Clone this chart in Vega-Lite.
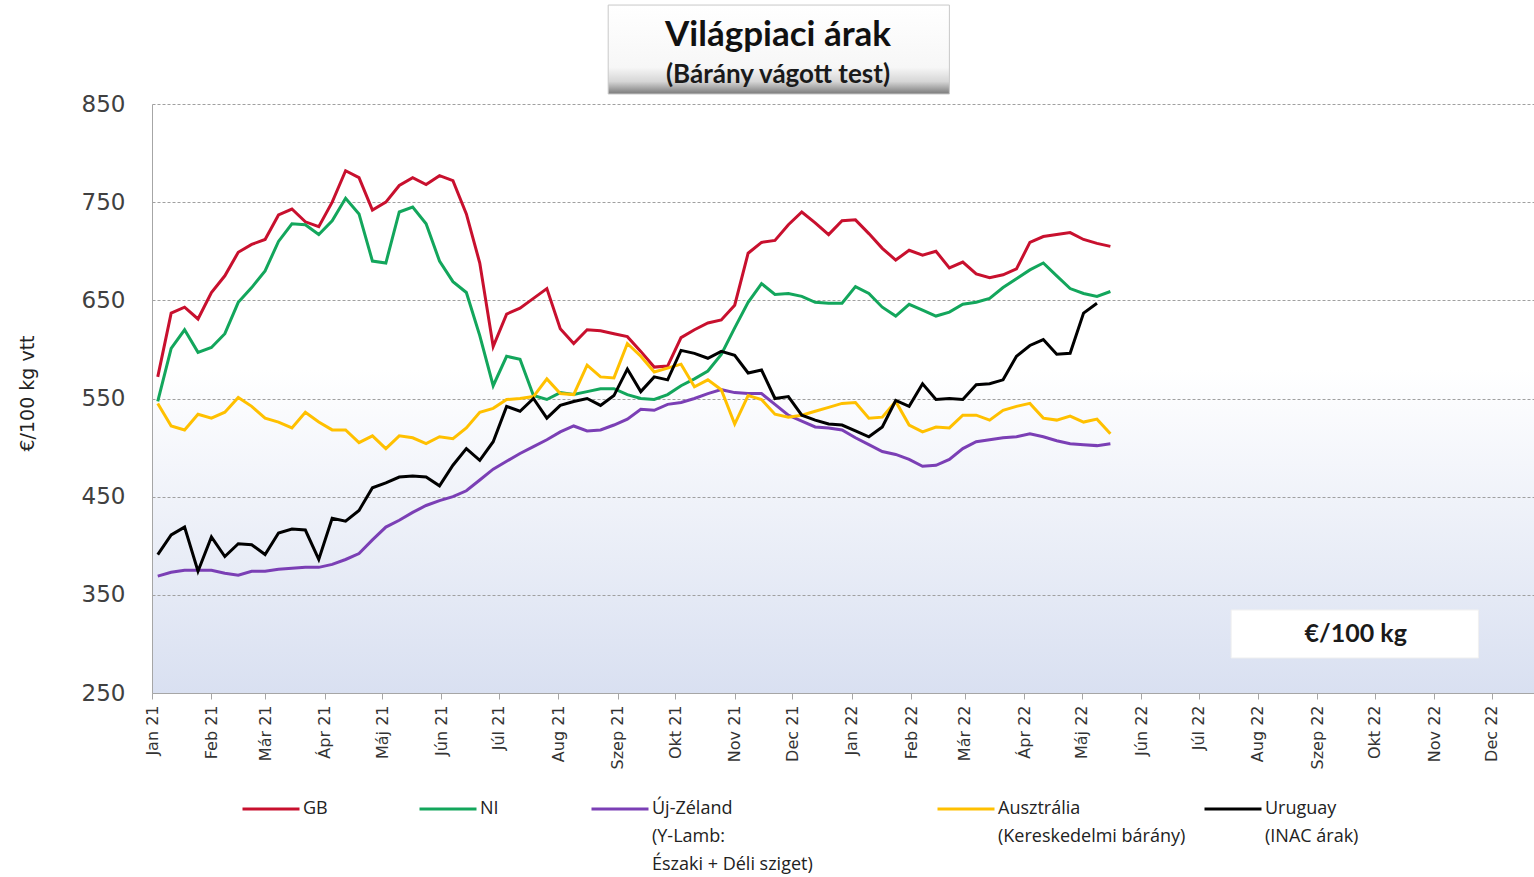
{
  "$schema": "https://vega.github.io/schema/vega-lite/v6.json",
  "width": 1382,
  "height": 589,
  "autosize": {"type": "none"},
  "padding": {"left": 152, "top": 104, "right": 0, "bottom": 184},
  "background": "white",
  "title": {
    "text": "Világpiaci árak",
    "subtitle": "(Bárány vágott test)",
    "frame": "group",
    "anchor": "middle",
    "dx": -65,
    "offset": -83,
    "font": "Lato",
    "fontSize": 35,
    "fontWeight": "bold",
    "color": "#111111",
    "subtitleFont": "Lato",
    "subtitleFontSize": 26,
    "subtitleFontWeight": "bold",
    "subtitleColor": "#1a1a1a",
    "subtitlePadding": 9
  },
  "datasets": {
    "titlebox": [{"d": "2021-08-27", "d2": "2022-02-21", "ar": 950.8, "ar2": 860.2}],
    "unitbox": [{"d": "2022-07-18", "d2": "2022-11-24", "ar": 334.6, "ar2": 285.7}],
    "unittext": [{"d": "2022-09-21", "ar": 310, "t": "€/100 kg"}],
    "prices": [
      {"d": "2021-01-04", "GB": 572, "NI": 547, "Új-Zéland": 369, "Ausztrália": 545, "Uruguay": 391},
      {"d": "2021-01-11", "GB": 637, "NI": 601, "Új-Zéland": 373, "Ausztrália": 522, "Uruguay": 411},
      {"d": "2021-01-18", "GB": 643, "NI": 620, "Új-Zéland": 375, "Ausztrália": 518, "Uruguay": 419},
      {"d": "2021-01-25", "GB": 631, "NI": 597, "Új-Zéland": 375, "Ausztrália": 534, "Uruguay": 374},
      {"d": "2021-02-01", "GB": 658, "NI": 602, "Új-Zéland": 375, "Ausztrália": 530, "Uruguay": 409},
      {"d": "2021-02-08", "GB": 675, "NI": 616, "Új-Zéland": 372, "Ausztrália": 536, "Uruguay": 389},
      {"d": "2021-02-15", "GB": 699, "NI": 648, "Új-Zéland": 370, "Ausztrália": 551, "Uruguay": 402},
      {"d": "2021-02-22", "GB": 707, "NI": 663, "Új-Zéland": 374, "Ausztrália": 542, "Uruguay": 401},
      {"d": "2021-03-01", "GB": 712, "NI": 680, "Új-Zéland": 374, "Ausztrália": 530, "Uruguay": 391},
      {"d": "2021-03-08", "GB": 737, "NI": 710, "Új-Zéland": 376, "Ausztrália": 526, "Uruguay": 413},
      {"d": "2021-03-15", "GB": 743, "NI": 728, "Új-Zéland": 377, "Ausztrália": 520, "Uruguay": 417},
      {"d": "2021-03-22", "GB": 730, "NI": 727, "Új-Zéland": 378, "Ausztrália": 536, "Uruguay": 416},
      {"d": "2021-03-29", "GB": 725, "NI": 717, "Új-Zéland": 378, "Ausztrália": 526, "Uruguay": 386},
      {"d": "2021-04-05", "GB": 750, "NI": 731, "Új-Zéland": 381, "Ausztrália": 518, "Uruguay": 428},
      {"d": "2021-04-12", "GB": 782, "NI": 754, "Új-Zéland": 386, "Ausztrália": 518, "Uruguay": 425},
      {"d": "2021-04-19", "GB": 775, "NI": 738, "Új-Zéland": 392, "Ausztrália": 505, "Uruguay": 436},
      {"d": "2021-04-26", "GB": 742, "NI": 690, "Új-Zéland": 406, "Ausztrália": 512, "Uruguay": 459},
      {"d": "2021-05-03", "GB": 750, "NI": 688, "Új-Zéland": 419, "Ausztrália": 499, "Uruguay": 464},
      {"d": "2021-05-10", "GB": 767, "NI": 740, "Új-Zéland": 426, "Ausztrália": 512, "Uruguay": 470},
      {"d": "2021-05-17", "GB": 775, "NI": 745, "Új-Zéland": 434, "Ausztrália": 510, "Uruguay": 471},
      {"d": "2021-05-24", "GB": 768, "NI": 728, "Új-Zéland": 441, "Ausztrália": 504, "Uruguay": 470},
      {"d": "2021-05-31", "GB": 777, "NI": 690, "Új-Zéland": 446, "Ausztrália": 511, "Uruguay": 461},
      {"d": "2021-06-07", "GB": 772, "NI": 669, "Új-Zéland": 450, "Ausztrália": 509, "Uruguay": 482},
      {"d": "2021-06-14", "GB": 738, "NI": 658, "Új-Zéland": 456, "Ausztrália": 520, "Uruguay": 499},
      {"d": "2021-06-21", "GB": 688, "NI": 614, "Új-Zéland": 467, "Ausztrália": 536, "Uruguay": 487},
      {"d": "2021-06-28", "GB": 603, "NI": 563, "Új-Zéland": 478, "Ausztrália": 540, "Uruguay": 506},
      {"d": "2021-07-05", "GB": 636, "NI": 593, "Új-Zéland": 486, "Ausztrália": 549, "Uruguay": 542},
      {"d": "2021-07-12", "GB": 642, "NI": 590, "Új-Zéland": 494, "Ausztrália": 550, "Uruguay": 537},
      {"d": "2021-07-19", "GB": 652, "NI": 553, "Új-Zéland": 501, "Ausztrália": 552, "Uruguay": 550},
      {"d": "2021-07-26", "GB": 662, "NI": 549, "Új-Zéland": 508, "Ausztrália": 570, "Uruguay": 530},
      {"d": "2021-08-02", "GB": 621, "NI": 556, "Új-Zéland": 516, "Ausztrália": 555, "Uruguay": 543},
      {"d": "2021-08-09", "GB": 606, "NI": 554, "Új-Zéland": 522, "Ausztrália": 554, "Uruguay": 547},
      {"d": "2021-08-16", "GB": 620, "NI": 557, "Új-Zéland": 517, "Ausztrália": 584, "Uruguay": 550},
      {"d": "2021-08-23", "GB": 619, "NI": 560, "Új-Zéland": 518, "Ausztrália": 572, "Uruguay": 543},
      {"d": "2021-08-30", "GB": 616, "NI": 560, "Új-Zéland": 523, "Ausztrália": 571, "Uruguay": 553},
      {"d": "2021-09-06", "GB": 613, "NI": 554, "Új-Zéland": 529, "Ausztrália": 606, "Uruguay": 580},
      {"d": "2021-09-13", "GB": 598, "NI": 550, "Új-Zéland": 539, "Ausztrália": 593, "Uruguay": 557},
      {"d": "2021-09-20", "GB": 582, "NI": 549, "Új-Zéland": 538, "Ausztrália": 577, "Uruguay": 572},
      {"d": "2021-09-27", "GB": 583, "NI": 554, "Új-Zéland": 544, "Ausztrália": 581, "Uruguay": 569},
      {"d": "2021-10-04", "GB": 612, "NI": 563, "Új-Zéland": 546, "Ausztrália": 585, "Uruguay": 599},
      {"d": "2021-10-11", "GB": 620, "NI": 570, "Új-Zéland": 550, "Ausztrália": 562, "Uruguay": 596},
      {"d": "2021-10-18", "GB": 627, "NI": 578, "Új-Zéland": 555, "Ausztrália": 569, "Uruguay": 591},
      {"d": "2021-10-25", "GB": 630, "NI": 595, "Új-Zéland": 559, "Ausztrália": 559, "Uruguay": 598},
      {"d": "2021-11-01", "GB": 645, "NI": 622, "Új-Zéland": 556, "Ausztrália": 524, "Uruguay": 594},
      {"d": "2021-11-08", "GB": 698, "NI": 648, "Új-Zéland": 555, "Ausztrália": 553, "Uruguay": 576},
      {"d": "2021-11-15", "GB": 709, "NI": 667, "Új-Zéland": 555, "Ausztrália": 549, "Uruguay": 579},
      {"d": "2021-11-22", "GB": 711, "NI": 656, "Új-Zéland": 544, "Ausztrália": 534, "Uruguay": 550},
      {"d": "2021-11-29", "GB": 727, "NI": 657, "Új-Zéland": 533, "Ausztrália": 531, "Uruguay": 552},
      {"d": "2021-12-06", "GB": 740, "NI": 654, "Új-Zéland": 527, "Ausztrália": 533, "Uruguay": 533},
      {"d": "2021-12-13", "GB": 729, "NI": 648, "Új-Zéland": 521, "Ausztrália": 537, "Uruguay": 528},
      {"d": "2021-12-20", "GB": 717, "NI": 647, "Új-Zéland": 520, "Ausztrália": 541, "Uruguay": 524},
      {"d": "2021-12-27", "GB": 731, "NI": 647, "Új-Zéland": 518, "Ausztrália": 545, "Uruguay": 523},
      {"d": "2022-01-03", "GB": 732, "NI": 664, "Új-Zéland": 510, "Ausztrália": 546, "Uruguay": 517},
      {"d": "2022-01-10", "GB": 718, "NI": 657, "Új-Zéland": 503, "Ausztrália": 530, "Uruguay": 511},
      {"d": "2022-01-17", "GB": 703, "NI": 643, "Új-Zéland": 496, "Ausztrália": 531, "Uruguay": 521},
      {"d": "2022-01-24", "GB": 691, "NI": 634, "Új-Zéland": 493, "Ausztrália": 547, "Uruguay": 548},
      {"d": "2022-01-31", "GB": 701, "NI": 646, "Új-Zéland": 488, "Ausztrália": 523, "Uruguay": 542},
      {"d": "2022-02-07", "GB": 696, "NI": 640, "Új-Zéland": 481, "Ausztrália": 516, "Uruguay": 565},
      {"d": "2022-02-14", "GB": 700, "NI": 634, "Új-Zéland": 482, "Ausztrália": 521, "Uruguay": 549},
      {"d": "2022-02-21", "GB": 683, "NI": 638, "Új-Zéland": 488, "Ausztrália": 520, "Uruguay": 550},
      {"d": "2022-02-28", "GB": 689, "NI": 646, "Új-Zéland": 499, "Ausztrália": 533, "Uruguay": 549},
      {"d": "2022-03-07", "GB": 677, "NI": 648, "Új-Zéland": 506, "Ausztrália": 533, "Uruguay": 564},
      {"d": "2022-03-14", "GB": 673, "NI": 652, "Új-Zéland": 508, "Ausztrália": 528, "Uruguay": 565},
      {"d": "2022-03-21", "GB": 676, "NI": 663, "Új-Zéland": 510, "Ausztrália": 538, "Uruguay": 569},
      {"d": "2022-03-28", "GB": 682, "NI": 672, "Új-Zéland": 511, "Ausztrália": 542, "Uruguay": 593},
      {"d": "2022-04-04", "GB": 709, "NI": 681, "Új-Zéland": 514, "Ausztrália": 545, "Uruguay": 604},
      {"d": "2022-04-11", "GB": 715, "NI": 688, "Új-Zéland": 511, "Ausztrália": 530, "Uruguay": 610},
      {"d": "2022-04-18", "GB": 717, "NI": 675, "Új-Zéland": 507, "Ausztrália": 528, "Uruguay": 595},
      {"d": "2022-04-25", "GB": 719, "NI": 662, "Új-Zéland": 504, "Ausztrália": 532, "Uruguay": 596},
      {"d": "2022-05-02", "GB": 712, "NI": 657, "Új-Zéland": 503, "Ausztrália": 526, "Uruguay": 637},
      {"d": "2022-05-09", "GB": 708, "NI": 654, "Új-Zéland": 502, "Ausztrália": 529, "Uruguay": 647},
      {"d": "2022-05-16", "GB": 705, "NI": 659, "Új-Zéland": 504, "Ausztrália": 514, "Uruguay": null}
    ]
  },
  "encoding": {
    "x": {
      "field": "d", "type": "temporal", "title": null,
      "scale": {"type": "utc", "domain": ["2021-01-01", "2022-12-23"]},
      "axis": {
        "title": null,
        "tickCount": {"interval": "month", "step": 1},
        "labelExpr": "['Jan','Feb','Már','Ápr','Máj','Jún','Júl','Aug','Szep','Okt','Nov','Dec'][utcmonth(datum.value)] + ' ' + utcFormat(datum.value, '%y')",
        "labelAngle": -90,
        "labelFont": "DejaVu Sans",
        "labelFontSize": 16,
        "labelColor": "#333333",
        "labelPadding": 6,
        "labelOverlap": false,
        "labelBound": false,
        "labelFlush": false,
        "tickSize": 6,
        "tickColor": "#a6a6a6",
        "domainColor": "#a6a6a6",
        "grid": false
      }
    },
    "y": {
      "field": "ar", "type": "quantitative",
      "scale": {"domain": [250, 850], "nice": false, "zero": false},
      "axis": {
        "title": "€/100  kg vtt",
        "titleFont": "DejaVu Sans",
        "titleFontSize": 19,
        "titleFontWeight": "normal",
        "titleColor": "#222222",
        "titleAngle": -90,
        "titleX": -125,
        "titleY": 289,
        "titleAlign": "center",
        "titleBaseline": "middle",
        "values": [250, 350, 450, 550, 650, 750, 850],
        "labelFont": "DejaVu Sans",
        "labelFontSize": 23,
        "labelColor": "#404040",
        "labelPadding": 27,
        "ticks": false,
        "domainColor": "#a6a6a6",
        "grid": true,
        "gridColor": "#a0a0a0",
        "gridDash": [3, 2],
        "gridWidth": 1
      }
    }
  },
  "layer": [
    {
      "data": {"name": "prices"},
      "transform": [
        {"fold": ["GB", "NI", "Új-Zéland", "Ausztrália", "Uruguay"], "as": ["orszag", "ar"]},
        {"filter": "datum.orszag === 'GB' && isValid(datum.ar)"}
      ],
      "mark": {"type": "line", "strokeWidth": 3},
      "encoding": {
        "color": {
          "field": "orszag", "type": "nominal",
          "scale": {"domain": ["GB"], "range": ["#c8102e"]},
          "legend": {"title": null, "orient": "none", "legendX": 89, "legendY": 675, "padding": 0, "symbolType": "stroke", "symbolSize": 3249, "symbolStrokeWidth": 3, "labelOffset": 2, "labelFont": "Open Sans", "labelFontSize": 18, "labelColor": "#222222", "labelBaseline": "top", "labelLimit": 400,
            "labelExpr": "['GB', '', '']",
            "encode": {"labels": {"update": {"lineHeight": {"value": 28}, "dy": {"value": -9}}}}}
        }
      }
    },
    {
      "data": {"name": "prices"},
      "transform": [
        {"fold": ["GB", "NI", "Új-Zéland", "Ausztrália", "Uruguay"], "as": ["orszag", "ar"]},
        {"filter": "datum.orszag === 'NI' && isValid(datum.ar)"}
      ],
      "mark": {"type": "line", "strokeWidth": 3},
      "encoding": {
        "color": {
          "field": "orszag", "type": "nominal",
          "scale": {"domain": ["NI"], "range": ["#13a65c"]},
          "legend": {"title": null, "orient": "none", "legendX": 266, "legendY": 675, "padding": 0, "symbolType": "stroke", "symbolSize": 3249, "symbolStrokeWidth": 3, "labelOffset": 2, "labelFont": "Open Sans", "labelFontSize": 18, "labelColor": "#222222", "labelBaseline": "top", "labelLimit": 400,
            "labelExpr": "['NI', '', '']",
            "encode": {"labels": {"update": {"lineHeight": {"value": 28}, "dy": {"value": -9}}}}}
        }
      }
    },
    {
      "data": {"name": "prices"},
      "transform": [
        {"fold": ["GB", "NI", "Új-Zéland", "Ausztrália", "Uruguay"], "as": ["orszag", "ar"]},
        {"filter": "datum.orszag === 'Új-Zéland' && isValid(datum.ar)"}
      ],
      "mark": {"type": "line", "strokeWidth": 3},
      "encoding": {
        "color": {
          "field": "orszag", "type": "nominal",
          "scale": {"domain": ["Új-Zéland"], "range": ["#7b3fb5"]},
          "legend": {"title": null, "orient": "none", "legendX": 438, "legendY": 675, "padding": 0, "symbolType": "stroke", "symbolSize": 3249, "symbolStrokeWidth": 3, "labelOffset": 2, "labelFont": "Open Sans", "labelFontSize": 18, "labelColor": "#222222", "labelBaseline": "top", "labelLimit": 400,
            "labelExpr": "['Új-Zéland', ' (Y-Lamb:', 'Északi + Déli sziget)']",
            "encode": {"labels": {"update": {"lineHeight": {"value": 28}, "dy": {"value": -9}}}}}
        }
      }
    },
    {
      "data": {"name": "prices"},
      "transform": [
        {"fold": ["GB", "NI", "Új-Zéland", "Ausztrália", "Uruguay"], "as": ["orszag", "ar"]},
        {"filter": "datum.orszag === 'Ausztrália' && isValid(datum.ar)"}
      ],
      "mark": {"type": "line", "strokeWidth": 3},
      "encoding": {
        "color": {
          "field": "orszag", "type": "nominal",
          "scale": {"domain": ["Ausztrália"], "range": ["#ffc000"]},
          "legend": {"title": null, "orient": "none", "legendX": 784, "legendY": 675, "padding": 0, "symbolType": "stroke", "symbolSize": 3249, "symbolStrokeWidth": 3, "labelOffset": 2, "labelFont": "Open Sans", "labelFontSize": 18, "labelColor": "#222222", "labelBaseline": "top", "labelLimit": 400,
            "labelExpr": "['Ausztrália', '(Kereskedelmi bárány)', '']",
            "encode": {"labels": {"update": {"lineHeight": {"value": 28}, "dy": {"value": -9}}}}}
        }
      }
    },
    {
      "data": {"name": "prices"},
      "transform": [
        {"fold": ["GB", "NI", "Új-Zéland", "Ausztrália", "Uruguay"], "as": ["orszag", "ar"]},
        {"filter": "datum.orszag === 'Uruguay' && isValid(datum.ar)"}
      ],
      "mark": {"type": "line", "strokeWidth": 3},
      "encoding": {
        "color": {
          "field": "orszag", "type": "nominal",
          "scale": {"domain": ["Uruguay"], "range": ["#000000"]},
          "legend": {"title": null, "orient": "none", "legendX": 1051, "legendY": 675, "padding": 0, "symbolType": "stroke", "symbolSize": 3249, "symbolStrokeWidth": 3, "labelOffset": 2, "labelFont": "Open Sans", "labelFontSize": 18, "labelColor": "#222222", "labelBaseline": "top", "labelLimit": 400,
            "labelExpr": "['Uruguay', '(INAC árak)', '']",
            "encode": {"labels": {"update": {"lineHeight": {"value": 28}, "dy": {"value": -9}}}}}
        }
      }
    },
    {
      "data": {"name": "titlebox"},
      "mark": {"type": "rect", "clip": false, "stroke": "#c8c8c8", "strokeWidth": 1, "fill": {"gradient": "linear", "x1": 0, "y1": 0, "x2": 0, "y2": 1, "stops": [{"offset": 0, "color": "#ffffff"}, {"offset": 0.7, "color": "#f7f7f7"}, {"offset": 0.86, "color": "#d6d6d6"}, {"offset": 1, "color": "#7a7a7a"}]}},
      "encoding": {"x2": {"field": "d2"}, "y2": {"field": "ar2"}}
    },
    {
      "data": {"name": "unitbox"},
      "mark": {"type": "rect", "fill": "#ffffff", "stroke": "#f0f0f0"},
      "encoding": {"x2": {"field": "d2"}, "y2": {"field": "ar2"}}
    },
    {
      "data": {"name": "unittext"},
      "mark": {"type": "text", "font": "Lato", "fontSize": 25, "fontWeight": "bold", "color": "#1a1a1a", "align": "center", "baseline": "middle"},
      "encoding": {"text": {"field": "t"}}
    }
  ],
  "resolve": {"scale": {"color": "independent"}, "legend": {"color": "independent"}},
  "config": {
    "view": {
      "stroke": null,
      "fill": {"gradient": "linear", "x1": 0, "y1": 0, "x2": 0, "y2": 1, "stops": [{"offset": 0, "color": "#ffffff"}, {"offset": 0.45, "color": "#ffffff"}, {"offset": 1, "color": "#d9e0f1"}]}
    },
    "font": "Lato"
  }
}
